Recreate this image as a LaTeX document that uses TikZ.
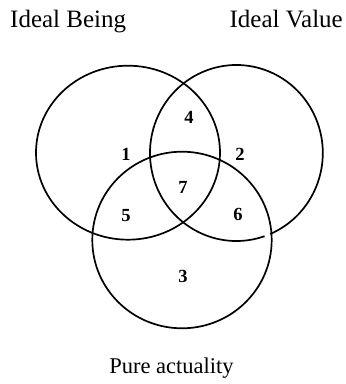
\documentclass[tikz,border=0pt]{standalone}
\usepackage{fontspec}
\setmainfont{Liberation Serif}
\begin{document}
\begin{tikzpicture}[x=1pt,y=1pt,
  ring/.style={line width=1.7pt,black},
  title/.style={font=\fontsize{25}{25}\selectfont,inner sep=0pt},
  num/.style={font=\fontsize{18.5}{18.5}\selectfont\bfseries,inner sep=0pt}]
\useasboundingbox (0,0) rectangle (346,384);
% circles
\draw[ring] (128,231.3) ellipse [x radius=92, y radius=87];
\draw[ring] (236.4,231) ++(-67:86.4 and 88) arc [start angle=-67, end angle=289, x radius=86.4, y radius=88];
\draw[ring] (182,144) ellipse [x radius=89.7, y radius=88.3];
% titles
\node[title,anchor=base west] (being) at (10,356) {Ideal Being};
\node[title,anchor=base east] (value) at (343,356) {Ideal Value};
\node[title,anchor=base,font=\fontsize{22.5}{22.5}\selectfont] (pure) at (171.5,10) {Pure actuality};
% region numbers
\node[num] (r1) at (126,230) {1};
\node[num] (r4) at (189,267) {4};
\node[num] (r2) at (240,230) {2};
\node[num] (r7) at (183,197) {7};
\node[num] (r5) at (126,168) {5};
\node[num] (r6) at (238,170) {6};
\node[num] (r3) at (183,108) {3};
\end{tikzpicture}
\end{document}
